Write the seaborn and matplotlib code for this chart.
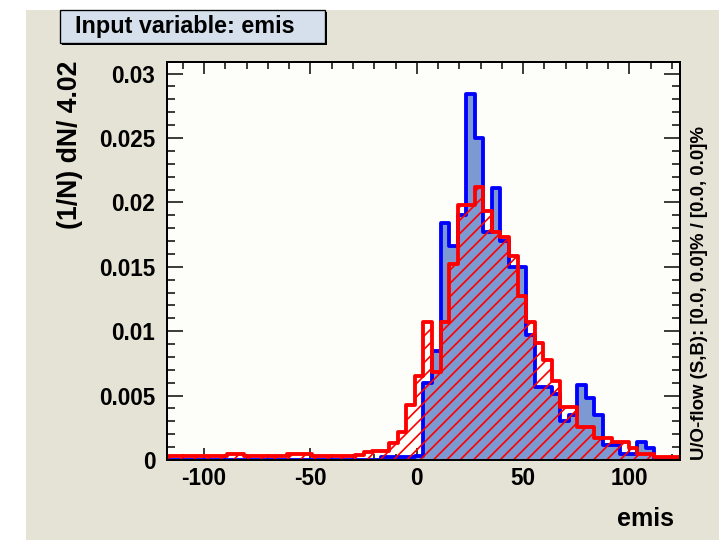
import numpy as np
import pandas as pd
import matplotlib
matplotlib.use("Agg")
import matplotlib.pyplot as plt
import seaborn as sns
from matplotlib.patches import Rectangle
from matplotlib.ticker import MultipleLocator, FuncFormatter

# histogram setup (60 bins of width 4.02)
bin_width = 4.02
x_min = -117.45
n_bins = 60

# (1/N) dN / 4.02 per bin
signal = [
    0, 0, 0, 0, 0, 0, 0, 0, 0, 0,
    0, 0, 0, 0, 0, 0, 0, 0, 0, 0,
    0, 0, 0, 0, 0, 0.0002, 0.0002, 0.0002, 0.0002, 0.0003,
    0.0060, 0.0085, 0.0184, 0.0166, 0.0190, 0.0284, 0.0250, 0.0177, 0.0211, 0.0170,
    0.0150, 0.0150, 0.0097, 0.0057, 0.0057, 0.0051, 0.0030, 0.0035, 0.0058, 0.0048,
    0.0035, 0.0012, 0.0012, 0.0005, 0.0005, 0.0014, 0.0009, 0, 0, 0,
]
background = [
    0.0003, 0.0003, 0.0003, 0.0003, 0.0003, 0.0003, 0.0003, 0.0005, 0.0005, 0.0003,
    0.0003, 0.0003, 0.0003, 0.0003, 0.0005, 0.0005, 0.0005, 0.0003, 0.0003, 0.0003,
    0.0003, 0.0003, 0.0004, 0.0006, 0.0007, 0.0007, 0.0013, 0.0022, 0.0043, 0.0065,
    0.0107, 0.0068, 0.0107, 0.0152, 0.0198, 0.0198, 0.0212, 0.0193, 0.0177, 0.0173,
    0.0158, 0.0127, 0.0107, 0.0091, 0.0078, 0.0061, 0.0041, 0.0041, 0.0026, 0.0026,
    0.0017, 0.0017, 0.0014, 0.0014, 0.0009, 0.0005, 0.0005, 0.0002, 0.0002, 0.0002,
]

x_ticks = [-100, -50, 0, 50, 100]
y_ticks = [0, 0.005, 0.01, 0.015, 0.02, 0.025, 0.03]

edges = x_min + bin_width * np.arange(n_bins + 1)
centers = edges[:-1] + bin_width / 2
bin_list = list(edges)  # seaborn wants a list here, not an array
sig_df = pd.DataFrame({"emis": centers, "density": signal})
bkg_df = pd.DataFrame({"emis": centers, "density": background})

sns.set_theme(style="ticks")
plt.rcParams["font.family"] = ["Liberation Sans", "DejaVu Sans"]
plt.rcParams["font.weight"] = "bold"
plt.rcParams["axes.unicode_minus"] = False
plt.rcParams["hatch.linewidth"] = 1.0
plt.rcParams["hatch.color"] = "red"
for key in ["text.color", "axes.labelcolor", "xtick.color", "ytick.color",
            "xtick.labelcolor", "ytick.labelcolor"]:
    plt.rcParams[key] = "black"

DPI = 120
fig = plt.figure(figsize=(719 / DPI, 540 / DPI), dpi=DPI)
fig.patch.set_facecolor("white")
fig.patches.append(Rectangle((26 / 719, 0), 1, 530 / 540,
                             transform=fig.transFigure, facecolor="#e4e3d5",
                             edgecolor="none", zorder=-2))

ax = fig.add_axes([167 / 719, 80 / 540, 513 / 719, 398 / 540])
ax.set_facecolor("#fdfdf9")

# signal: filled blue
sns.histplot(data=sig_df, x="emis", weights="density", bins=bin_list, element="step",
             fill=True, color="#7d99d1", facecolor="#7d99d1", edgecolor="none",
             linewidth=0, alpha=1, ax=ax, zorder=1)
sns.histplot(data=sig_df, x="emis", weights="density", bins=bin_list, element="step",
             fill=False, color="#0000ff", linewidth=2.3, ax=ax, zorder=2)

# background: red hatch
sns.histplot(data=bkg_df, x="emis", weights="density", bins=bin_list, element="step",
             fill=True, color="red", facecolor="none", edgecolor="red", linewidth=0,
             hatch="///", ax=ax, zorder=3)
sns.histplot(data=bkg_df, x="emis", weights="density", bins=bin_list, element="step",
             fill=False, color="#ff0000", linewidth=2.3, ax=ax, zorder=4)

ax.set_xlim(edges[0], edges[-1])
ax.set_ylim(0, 0.0309)
ax.set_xticks(x_ticks)
ax.set_yticks(y_ticks)
ax.xaxis.set_minor_locator(MultipleLocator(10))
ax.yaxis.set_minor_locator(MultipleLocator(0.001))
ax.yaxis.set_major_formatter(FuncFormatter(lambda v, p: f"{round(v, 6):g}"))

ax.tick_params(axis="both", which="both", direction="in", top=True, right=True,
               colors="black", width=0.9, labelsize=13.5)
ax.tick_params(axis="x", which="major", length=7.2, pad=4)
ax.tick_params(axis="x", which="minor", length=3.9)
ax.tick_params(axis="y", which="major", length=9.6, pad=7)
ax.tick_params(axis="y", which="minor", length=4.8)
for sp in ax.spines.values():
    sp.set_linewidth(1.2)
    sp.set_color("black")
    sp.set_zorder(5)

ax.set_xlabel("emis", loc="right", fontsize=15, fontweight="bold")
ax.xaxis.set_label_coords(0.988, -0.118)
ax.set_ylabel("(1/N) dN/ 4.02", loc="top", fontsize=16, fontweight="bold")
ax.yaxis.set_label_coords(-0.163, 1.005)

# title box with shadow
fig.patches.append(Rectangle((62 / 719, 1 - 45 / 540), 265 / 719, 33 / 540,
                             transform=fig.transFigure, facecolor="black",
                             edgecolor="none", zorder=5))
fig.patches.append(Rectangle((60 / 719, 1 - 43 / 540), 265 / 719, 33 / 540,
                             transform=fig.transFigure, facecolor="#d5e0ec",
                             edgecolor="black", linewidth=0.8, zorder=6))
fig.text(75 / 719, 1 - 27 / 540, "Input variable: emis", ha="left", va="center",
         fontsize=14, fontweight="bold", zorder=7)

# under/overflow note
fig.text(699 / 719, 80 / 540, "U/O-flow (S,B): [0.0, 0.0]% / [0.0, 0.0]%",
         rotation=90, ha="center", va="bottom", fontsize=11.2, fontweight="bold")

fig.savefig("out.png", dpi=DPI)
